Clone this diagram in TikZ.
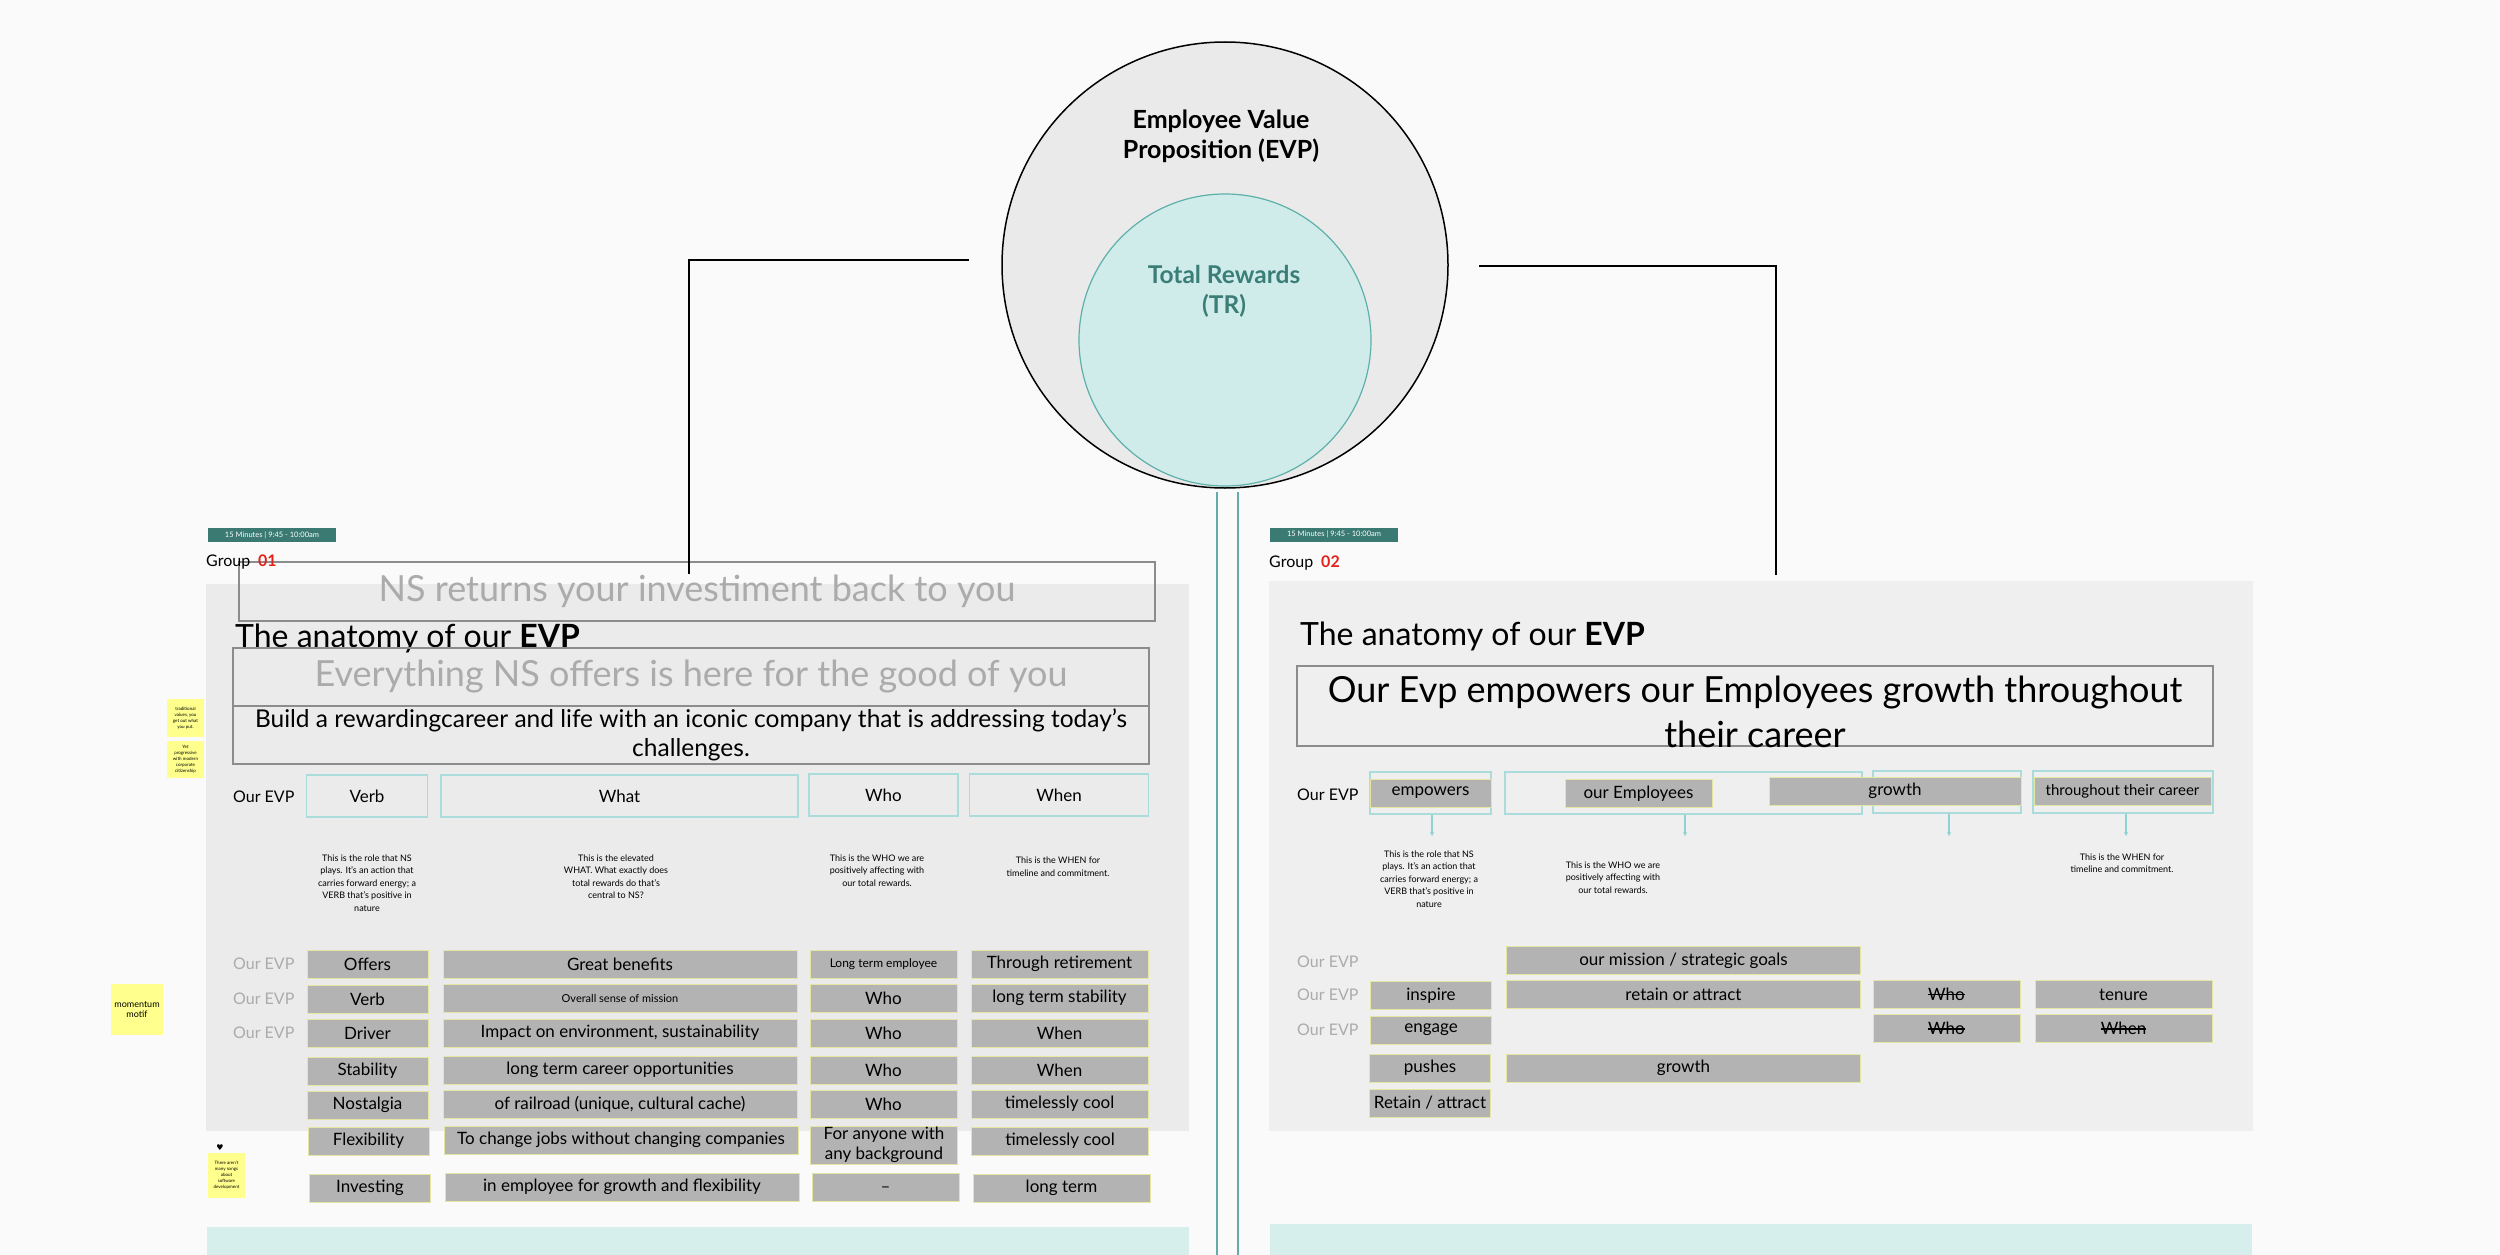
\documentclass[tikz,border=0pt]{standalone}
\usepackage{fontspec}
\setmainfont{Lato}
\newfontfamily\symfont{DejaVu Sans}
\usetikzlibrary{arrows.meta,positioning}
\definecolor{paper}{HTML}{FAFAFA}
\definecolor{panelA}{HTML}{EBEBEB}
\definecolor{panelB}{HTML}{EFEFEF}
\definecolor{ringfill}{HTML}{EAEAEA}
\definecolor{trfill}{HTML}{CFECEB}
\definecolor{trline}{HTML}{5EB0AA}
\definecolor{trtext}{HTML}{3B7E77}
\definecolor{badgeteal}{HTML}{3A7A72}
\definecolor{grpred}{HTML}{E3231B}
\definecolor{cellgray}{HTML}{B3B3B3}
\definecolor{cellline}{HTML}{E6E6A4}
\definecolor{headline}{HTML}{A9DCDB}
\definecolor{boxline}{HTML}{8C8C8C}
\definecolor{fadetext}{HTML}{ABABAB}
\definecolor{stickynote}{HTML}{FFFF8D}
\definecolor{stripteal}{HTML}{D7EFEC}
\definecolor{stemteal}{HTML}{62ACA7}
\definecolor{arrowteal}{HTML}{8ED2D1}
\newcommand{\fsz}[2]{\fontsize{#1}{#2}\selectfont}
\newsavebox{\strikebox}
\newcommand{\strk}[1]{\sbox{\strikebox}{#1}\rlap{\usebox{\strikebox}}\rule[0.3em]{\wd\strikebox}{1.4pt}}
\tikzset{
  slot/.style={draw=cellline, fill=cellgray, line width=1pt, minimum height=28pt,
    inner sep=0pt, align=center, text=black, font=\fsz{17}{20}},
  colverb/.style={minimum width=121pt},
  colwhat/.style={minimum width=354pt},
  colwho/.style={minimum width=147pt},
  colwhen/.style={minimum width=177pt},
  headbox/.style={draw=headline, line width=1.2pt, minimum height=42pt,
    inner sep=0pt, font=\fsz{17}{20}},
  stmt/.style={draw=boxline, line width=1.3pt, minimum width=916pt,
    minimum height=58pt, inner sep=0pt, align=center},
  desc/.style={align=center, inner sep=0pt, font=\fsz{9}{12.5}},
  sticky/.style={fill=stickynote, align=center, inner sep=0pt, font=\fsz{4.5}{6}},
  badge/.style={fill=badgeteal, text=white, minimum width=128pt, minimum height=14pt,
    inner sep=0pt, font=\fsz{7.5}{8}},
  rowlabel/.style={anchor=west, inner sep=0pt, text=fadetext, font=\fsz{16}{18}},
  leader/.style={draw=black, line width=1.4pt},
  tealstem/.style={draw=stemteal, line width=1.5pt},
  pointer/.style={-{Stealth[length=4pt, width=4pt]}, draw=arrowteal, line width=1.2pt}
}

\begin{document}
\begin{tikzpicture}[x=1pt, y=-1pt]
\useasboundingbox (0,0) rectangle (2500,1255);
\fill[paper] (0,0) rectangle (2500,1255);

% panels
\fill[panelA] (206,584) rectangle (1189,1131);
\fill[panelB] (1269,581) rectangle (2253,1131);
\fill[stripteal] (207,1227) rectangle (1189,1255);
\fill[stripteal] (1270,1224) rectangle (2252,1255);

% EVP / TR circles
\node[circle, inner sep=0pt, minimum size=446pt, draw=black, line width=1.5pt, fill=ringfill] (evp) at (1225,265) {};
\node[circle, inner sep=0pt, minimum size=292pt, draw=trline, line width=1.2pt, fill=trfill] (tr) at (1225,340) {};
\node[font=\bfseries\fsz{25}{30}, align=center] (evptxt) at (1221,136) {Employee Value\\Proposition (EVP)};
\node[font=\bfseries\fsz{24.5}{30}, text=trtext, align=center] (trtxt) at (1224,291) {Total Rewards\\(TR)};

\coordinate (sa) at (1217,492);
\coordinate (sb) at (1238,492);
\coordinate (ea) at (1217,1255);
\coordinate (eb) at (1238,1255);
\draw[tealstem] (sa) -- (ea);
\draw[tealstem] (sb) -- (eb);

\coordinate (la) at (969,260);
\coordinate (lb) at (689,574);
\coordinate (ra) at (1479,266);
\coordinate (rb) at (1776,575);

% group 01
\node[badge] (badge1) at (272,535) {15 Minutes | 9:45 - 10:00am};
\node[stmt, minimum height=59pt, text=fadetext, font=\fsz{36}{40}] (ret1) at (697,591.5) {NS returns your investiment back to you};
\node[anchor=west, inner sep=0pt, font=\fsz{16}{18}] (grp1) at (206,562) {Group\hspace{8pt}{\bfseries\color{grpred}01}};
\node[anchor=base west, inner sep=0pt, font=\fsz{32}{34}] (title1) at (235,647) {The anatomy of our \textbf{EVP}};
\node[stmt, text=fadetext, font=\fsz{36}{40}] (good1) at (691,677) {Everything NS offers is here for the good of you};
\node[stmt, font=\fsz{24.5}{29}] (build1) at (691,735) {Build a rewardingcareer and life with an iconic company that is addressing today's\\challenges.};

\node[anchor=west, inner sep=0pt, font=\fsz{16}{18}] (our1) at (233,797) {Our EVP};
\node[headbox, minimum width=121pt] (hv1) at (367,796) {Verb};
\node[headbox, minimum width=357pt] (hw1) at (619.5,796) {What};
\node[headbox, minimum width=149pt] (hh1) at (883.5,795) {Who};
\node[headbox, minimum width=179pt] (hn1) at (1059,795) {When};

\node[desc] (dv1) at (367,883) {This is the role that NS\\plays. It's an action that\\carries forward energy; a\\VERB that's positive in\\nature};
\node[desc] (dw1) at (616,876.5) {This is the elevated\\WHAT. What exactly does\\total rewards do that's\\central to NS?};
\node[desc] (dh1) at (877,870.5) {This is the WHO we are\\positively affecting with\\our total rewards.};
\node[desc] (dn1) at (1058,866.5) {This is the WHEN for\\timeline and commitment.};

\node[rowlabel] (gl1) at (233,964) {Our EVP};
\node[rowlabel] (gl2) at (233,999) {Our EVP};
\node[rowlabel] (gl3) at (233,1033) {Our EVP};

\node[slot, colverb] (v1) at (367.5,964) {Offers};
\node[slot, colwhat] (w1) at (620,964) {Great benefits};
\node[slot, colwho, font=\fsz{12}{14}] (h1) at (883.5,964) {Long term employee};
\node[slot, colwhen] (n1) at (1059.5,964) {Through retirement};

\node[slot, colverb] (v2) at (367.5,999) {Verb};
\node[slot, colwhat, font=\fsz{11}{13}] (w2) at (620,998) {Overall sense of mission};
\node[slot, colwho] (h2) at (883.5,998) {Who};
\node[slot, colwhen] (n2) at (1059.5,998) {long term stability};

\node[slot, colverb] (v3) at (367.5,1033) {Driver};
\node[slot, colwhat] (w3) at (620,1033) {Impact on environment, sustainability};
\node[slot, colwho] (h3) at (883.5,1033) {Who};
\node[slot, colwhen] (n3) at (1059.5,1033) {When};

\node[slot, colverb] (v4) at (367.5,1071) {Stability};
\node[slot, colwhat] (w4) at (620,1070) {long term career opportunities};
\node[slot, colwho] (h4) at (883.5,1070) {Who};
\node[slot, colwhen] (n4) at (1059.5,1070) {When};

\node[slot, colverb] (v5) at (367.5,1105) {Nostalgia};
\node[slot, colwhat] (w5) at (620,1104) {of railroad (unique, cultural cache)};
\node[slot, colwho] (h5) at (883.5,1104) {Who};
\node[slot, colwhen] (n5) at (1059.5,1104) {timelessly cool};

\node[slot, colverb] (v6) at (368.5,1141) {Flexibility};
\node[slot, colwhat] (w6) at (621,1140) {To change jobs without changing companies};
\node[slot, colwho, minimum height=38pt] (h6) at (884,1145) {For anyone with\\any background};
\node[slot, colwhen] (n6) at (1060,1141) {timelessly cool};

\node[slot, colverb] (v7) at (370,1188) {Investing};
\node[slot, colwhat] (w7) at (622,1187) {in employee for growth and flexibility};
\node[slot, colwho] (h7) at (885.5,1187) {\_};
\node[slot, colwhen] (n7) at (1061.5,1188) {long term};

% notes
\node[sticky, minimum width=37pt, minimum height=38pt] (note1) at (185.5,718) {traditional\\values, you\\get out what\\you put.};
\node[sticky, minimum width=37pt, minimum height=37pt] (note2) at (185.5,759.5) {Yet\\progressive\\with modern\\corporate\\citizenship};
\node[sticky, minimum width=52pt, minimum height=51pt, font=\fsz{9}{10.5}] (note3) at (137,1009.5) {momentum\\motif};
\node[sticky, minimum width=37pt, minimum height=45pt] (note4) at (226.5,1175.5) {There aren't\\many songs\\about\\software\\development};
\node[inner sep=0pt, font=\symfont\fsz{8}{8}] (pin) at (220,1148) {♥};

% group 02
\node[badge] (badge2) at (1334,534.5) {15 Minutes | 9:45 - 10:00am};
\node[anchor=west, inner sep=0pt, font=\fsz{16}{18}] (grp2) at (1269,563) {Group\hspace{8pt}{\bfseries\color{grpred}02}};
\node[anchor=base west, inner sep=0pt, font=\fsz{32}{34}] (title2) at (1300,645) {The anatomy of our \textbf{EVP}};
\node[stmt, minimum height=80pt] (stmt2) at (1755,706) {};
\node[align=center, inner sep=0pt, font=\fsz{36}{45.5}] (stmt2txt) at (1755,712) {Our Evp empowers our Employees growth throughout\\their career};

\node[anchor=west, inner sep=0pt, font=\fsz{16}{18}] (our2) at (1297,795) {Our EVP};
\node[headbox, minimum width=121pt] (hv2) at (1430.5,793) {};
\node[headbox, minimum width=357pt] (hw2) at (1683.5,793) {};
\node[headbox, minimum width=148pt] (hh2) at (1947,792) {};
\node[headbox, minimum width=180pt] (hn2) at (2123,792) {};

\node[slot, colverb] (ev) at (1430.5,793) {empowers};
\node[slot, colwho] (ee) at (1638.5,793.5) {our Employees};
\node[slot, minimum width=252pt] (eg) at (1895,791) {growth};
\node[slot, colwhen, font=\fsz{15}{18}] (et) at (2122.5,791) {throughout their career};

\coordinate (av2) at (1432,836);
\coordinate (aw2) at (1685,836);
\coordinate (ah2) at (1949,836);
\coordinate (an2) at (2126,836);

\node[desc] (dv2) at (1429,879) {This is the role that NS\\plays. It's an action that\\carries forward energy; a\\VERB that's positive in\\nature};
\node[desc] (dw2) at (1613,877.5) {This is the WHO we are\\positively affecting with\\our total rewards.};
\node[desc] (dn2) at (2122,863) {This is the WHEN for\\timeline and commitment.};

\node[rowlabel] (gm1) at (1297,962) {Our EVP};
\node[rowlabel] (gm2) at (1297,995) {Our EVP};
\node[rowlabel] (gm3) at (1297,1030) {Our EVP};

\node[slot, colwhat] (m1) at (1683.5,960.5) {our mission / strategic goals};
\node[slot, colverb] (x2) at (1431,995.5) {inspire};
\node[slot, colwhat] (m2) at (1683.5,994.5) {retain or attract};
\node[slot, colwho] (y2) at (1946.5,994) {\strk{Who}};
\node[slot, colwhen] (z2) at (2123.5,994.5) {tenure};
\node[slot, colverb] (x3) at (1431,1030) {engage};
\node[slot, colwho] (y3) at (1946.5,1028.5) {\strk{Who}};
\node[slot, colwhen] (z3) at (2123.5,1028.5) {\strk{When}};
\node[slot, colverb] (x4) at (1430,1068) {pushes};
\node[slot, colwhat] (m4) at (1683.5,1068) {growth};
\node[slot, colverb] (x5) at (1430,1103) {Retain / attract};

% connectors
\draw[leader] (la) -| (lb);
\draw[leader] (ra) -| (rb);
\foreach \a/\b in {hv2/av2,hw2/aw2,hh2/ah2,hn2/an2}
    \draw[pointer] (\b |- \a.south) -- (\b);
\end{tikzpicture}
\end{document}
